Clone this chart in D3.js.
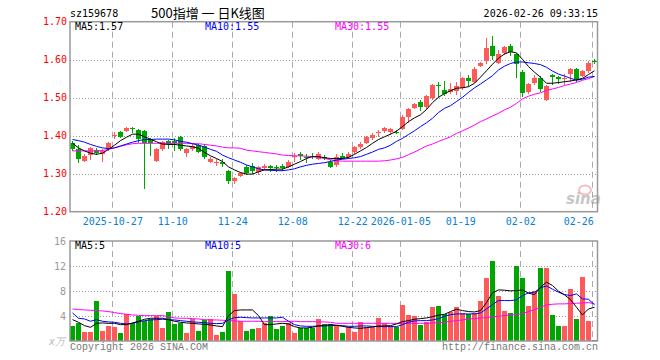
<!DOCTYPE html>
<html>
<head>
<meta charset="utf-8">
<script src="https://cdn.jsdelivr.net/npm/d3@7"></script>
<style>
  body { margin: 0; background: #fff; }
  text { font-family: "DejaVu Sans Mono", "Liberation Mono", monospace; font-size: 10px; }
</style>
</head>
<body>
<script>
// trading days shown on the chart
var dates = [
  "2025-10-16","2025-10-17","2025-10-20","2025-10-21","2025-10-22","2025-10-23","2025-10-24","2025-10-27","2025-10-28","2025-10-29",
  "2025-10-30","2025-10-31","2025-11-03","2025-11-04","2025-11-05","2025-11-06","2025-11-07","2025-11-10","2025-11-11","2025-11-12",
  "2025-11-13","2025-11-14","2025-11-17","2025-11-18","2025-11-19","2025-11-20","2025-11-21","2025-11-24","2025-11-25","2025-11-26",
  "2025-11-27","2025-11-28","2025-12-01","2025-12-02","2025-12-03","2025-12-04","2025-12-05","2025-12-08","2025-12-09","2025-12-10",
  "2025-12-11","2025-12-12","2025-12-15","2025-12-16","2025-12-17","2025-12-18","2025-12-19","2025-12-22","2025-12-23","2025-12-24",
  "2025-12-25","2025-12-26","2025-12-29","2025-12-30","2025-12-31","2026-01-05","2026-01-06","2026-01-07","2026-01-08","2026-01-09",
  "2026-01-12","2026-01-13","2026-01-14","2026-01-15","2026-01-16","2026-01-19","2026-01-20","2026-01-21","2026-01-22","2026-01-23",
  "2026-01-26","2026-01-27","2026-01-28","2026-01-29","2026-01-30","2026-02-02","2026-02-03","2026-02-04","2026-02-05","2026-02-06",
  "2026-02-09","2026-02-10","2026-02-11","2026-02-12","2026-02-13","2026-02-24","2026-02-25","2026-02-26"
];

var openP = [1.381,1.364,1.333,1.349,1.362,1.351,1.364,1.401,1.411,1.413,1.420,1.415,1.412,1.391,1.334,1.365,1.387,1.385,1.396,1.354,
  1.366,1.375,1.372,1.331,1.329,1.332,1.307,1.281,1.295,1.318,1.321,1.305,1.314,1.320,1.318,1.321,1.318,1.345,1.353,1.345,
  1.346,1.339,1.345,1.332,1.324,1.346,1.345,1.357,1.370,1.382,1.393,1.406,1.412,1.411,1.409,1.418,1.450,1.473,1.489,1.476,
  1.499,1.533,1.520,1.516,1.518,1.525,1.553,1.542,1.584,1.596,1.636,1.592,1.617,1.636,1.615,1.568,1.514,1.538,1.553,1.494,
  1.560,1.554,1.549,1.562,1.575,1.557,1.571,1.596];
var highP = [1.386,1.375,1.353,1.371,1.367,1.364,1.384,1.409,1.413,1.422,1.424,1.417,1.414,1.393,1.367,1.387,1.390,1.393,1.399,1.367,
  1.380,1.378,1.378,1.345,1.340,1.338,1.311,1.292,1.305,1.322,1.327,1.320,1.325,1.322,1.322,1.325,1.336,1.354,1.358,1.352,
  1.355,1.358,1.349,1.336,1.353,1.355,1.356,1.373,1.384,1.399,1.406,1.415,1.424,1.419,1.415,1.454,1.472,1.486,1.494,1.507,
  1.536,1.542,1.544,1.540,1.542,1.555,1.560,1.582,1.595,1.656,1.662,1.625,1.636,1.641,1.618,1.573,1.539,1.560,1.557,1.533,
  1.562,1.556,1.562,1.577,1.577,1.573,1.597,1.603];
var lowP = [1.360,1.329,1.332,1.336,1.349,1.332,1.361,1.391,1.393,1.411,1.406,1.380,1.261,1.347,1.332,1.360,1.364,1.360,1.360,1.345,
  1.360,1.355,1.338,1.329,1.321,1.318,1.273,1.272,1.292,1.297,1.300,1.297,1.311,1.305,1.305,1.308,1.314,1.332,1.336,1.329,
  1.338,1.336,1.336,1.314,1.317,1.338,1.340,1.352,1.366,1.378,1.389,1.397,1.408,1.402,1.404,1.415,1.434,1.470,1.466,1.468,
  1.495,1.500,1.505,1.510,1.507,1.520,1.529,1.539,1.581,1.590,1.599,1.590,1.612,1.610,1.553,1.503,1.510,1.533,1.516,1.492,
  1.533,1.536,1.533,1.542,1.542,1.555,1.564,1.588];
var closeP = [1.365,1.338,1.347,1.367,1.354,1.360,1.382,1.403,1.397,1.420,1.418,1.391,1.382,1.381,1.364,1.384,1.379,1.380,1.366,1.365,
  1.373,1.358,1.345,1.339,1.331,1.326,1.281,1.289,1.303,1.301,1.308,1.317,1.321,1.316,1.317,1.316,1.332,1.347,1.347,1.344,
  1.343,1.352,1.341,1.318,1.345,1.341,1.353,1.370,1.378,1.397,1.403,1.411,1.419,1.417,1.407,1.450,1.469,1.484,1.475,1.504,
  1.533,1.531,1.510,1.524,1.531,1.553,1.545,1.575,1.592,1.630,1.610,1.615,1.633,1.621,1.590,1.513,1.537,1.552,1.522,1.531,
  1.554,1.550,1.553,1.575,1.548,1.571,1.592,1.595];

var ma5 = [1.380,1.368,1.360,1.354,1.351,1.354,1.364,1.375,1.387,1.396,1.404,1.404,1.397,1.391,1.384,1.378,1.377,1.377,1.375,1.373,
  1.371,1.367,1.356,1.347,1.340,1.332,1.318,1.310,1.303,1.299,1.299,1.305,1.310,1.311,1.312,1.312,1.318,1.325,1.332,1.340,
  1.345,1.345,1.342,1.340,1.340,1.340,1.343,1.351,1.360,1.369,1.380,1.390,1.397,1.404,1.412,1.424,1.437,1.447,1.455,1.469,
  1.487,1.501,1.511,1.518,1.525,1.526,1.529,1.538,1.554,1.571,1.588,1.604,1.615,1.621,1.618,1.601,1.582,1.567,1.554,1.538,
  1.538,1.540,1.542,1.544,1.547,1.551,1.561,1.571];
var ma10 = [1.390,1.387,1.383,1.377,1.372,1.368,1.366,1.368,1.373,1.378,1.383,1.387,1.390,1.390,1.391,1.391,1.391,1.389,1.385,1.383,
  1.379,1.375,1.370,1.364,1.359,1.349,1.342,1.336,1.330,1.323,1.318,1.313,1.310,1.309,1.308,1.308,1.310,1.313,1.318,1.322,
  1.325,1.327,1.329,1.332,1.336,1.338,1.340,1.342,1.345,1.351,1.357,1.364,1.368,1.375,1.385,1.393,1.403,1.413,1.424,1.434,
  1.446,1.461,1.472,1.479,1.490,1.501,1.514,1.526,1.536,1.547,1.558,1.573,1.583,1.590,1.594,1.594,1.592,1.590,1.587,1.580,
  1.570,1.562,1.557,1.551,1.546,1.549,1.554,1.556];
var ma30 = [1.360,1.360,1.360,1.360,1.360,1.361,1.364,1.368,1.372,1.376,1.379,1.380,1.380,1.380,1.380,1.380,1.380,1.380,1.380,1.380,
  1.379,1.379,1.377,1.375,1.373,1.370,1.368,1.368,1.367,1.362,1.360,1.358,1.356,1.354,1.352,1.349,1.348,1.347,1.347,1.346,
  1.345,1.343,1.340,1.337,1.334,1.333,1.333,1.333,1.333,1.333,1.333,1.333,1.334,1.336,1.339,1.343,1.350,1.357,1.365,1.373,
  1.378,1.385,1.391,1.397,1.406,1.413,1.420,1.428,1.437,1.444,1.452,1.459,1.468,1.475,1.485,1.497,1.504,1.509,1.513,1.519,
  1.523,1.527,1.532,1.536,1.540,1.546,1.550,1.556];

// volume in units of 万
var volume = [2.46,2.83,1.50,1.50,6.47,1.66,2.46,2.30,1.34,4.39,2.89,3.96,3.16,3.53,3.96,2.03,4.71,2.67,2.94,1.34,
  3.58,1.55,3.42,3.58,1.02,1.50,11.28,7.59,3.26,1.66,1.98,2.14,2.89,3.96,1.98,2.35,2.89,1.34,2.14,2.14,
  2.14,3.58,2.73,2.73,2.46,1.23,2.30,1.39,3.10,2.30,2.30,3.64,2.83,2.46,2.19,5.83,4.22,4.06,2.57,3.10,
  5.51,5.67,4.33,4.71,5.51,4.49,4.33,4.44,6.47,10.16,12.73,7.27,4.87,4.55,11.98,10.05,5.67,8.07,11.76,11.76,
  4.22,2.46,2.46,8.40,3.48,10.32,3.26,0.21];
var vma5 = [3.42,3.00,2.46,2.19,2.83,2.89,2.83,2.83,2.62,2.62,2.89,3.16,3.48,3.64,3.64,3.64,3.42,3.16,3.00,2.89,
  2.83,2.73,2.67,2.57,2.41,2.30,4.06,4.87,4.97,4.97,4.97,4.06,2.62,2.62,2.73,2.83,2.73,2.30,2.09,2.09,
  2.19,2.41,2.51,2.62,2.51,2.35,2.19,2.09,2.03,2.14,2.25,2.41,2.41,2.46,2.73,3.10,3.26,3.48,3.58,3.69,
  3.90,4.12,4.28,4.71,5.08,4.87,4.71,4.65,4.87,6.15,7.70,8.18,8.13,8.02,8.07,8.18,7.65,7.43,8.61,9.41,
  8.88,7.97,7.38,6.63,5.40,4.17,5.13,5.40];
var vma10 = [4.49,3.64,3.53,3.16,3.42,3.16,3.05,3.00,2.83,2.73,2.83,3.05,3.26,3.37,3.42,3.48,3.42,3.37,3.26,3.16,
  3.05,3.00,2.94,2.83,2.78,2.83,3.37,3.74,3.80,3.74,3.69,3.69,3.69,3.69,3.69,3.80,3.16,2.62,2.41,2.35,
  2.35,2.41,2.41,2.46,2.51,2.46,2.35,2.35,2.41,2.41,2.35,2.30,2.30,2.30,2.30,2.62,3.00,3.21,3.26,3.26,
  3.37,3.58,3.96,4.22,4.33,4.33,4.33,4.33,4.49,5.13,5.83,6.47,6.47,6.47,6.58,7.27,7.70,7.81,8.50,8.82,
  8.29,7.81,7.43,7.27,7.54,6.74,6.68,5.80];
var vma30 = [5.13,5.03,4.97,4.92,4.87,4.81,4.71,4.55,4.39,4.28,4.17,4.12,4.06,4.06,4.06,4.06,3.90,3.69,3.64,3.64,
  3.58,3.53,3.42,3.37,3.37,3.32,3.26,3.21,3.16,3.16,3.16,3.16,3.10,3.10,3.10,3.10,3.16,3.16,3.10,3.10,
  3.10,3.05,3.05,2.99,2.83,2.83,2.83,2.83,2.83,2.83,2.83,2.83,2.83,2.83,2.83,2.83,2.83,2.83,2.83,2.83,
  2.89,2.94,2.99,3.16,3.26,3.37,3.53,3.58,3.69,3.74,3.90,3.96,4.06,4.17,4.22,4.39,4.71,5.03,5.40,5.78,
  5.88,5.94,5.94,5.99,6.04,6.10,6.15,5.94];

var priceTicks = [1.20, 1.30, 1.40, 1.50, 1.60, 1.70];
var volTicks = [4, 8, 12, 16];
var dateTicks = ["2025-10-27","2025-11-10","2025-11-24","2025-12-08","2025-12-22","2026-01-05","2026-01-19","2026-02-02","2026-02-26"];
var dateTickLabels = ["2025-10-27","11-10","11-24","12-08","12-22","2026-01-05","01-19","02-02","02-26"];

var upColor = "#ff5a5a", downColor = "#00a600";

var svg = d3.select("body").append("svg")
    .attr("width", 660)
    .attr("height", 360);

var left = 70, right = 597.5;
var pTop = 21.7, pBottom = 211.7;
var vTop = 241, vBottom = 341;

var x = d3.scaleBand().domain(dates).range([69.3, 597.3]).padding(0);
var yP = d3.scaleLinear().domain([1.20, 1.70]).range([pBottom, pTop]);
var yV = d3.scaleLinear().domain([0, 16]).range([vBottom, vTop]);

function px(d) { return Math.round(x(d)); }

// header
svg.append("text").attr("x", 70).attr("y", 17).text("sz159678");
svg.append("text").attr("x", 151).attr("y", 17.5)
    .style("font-family", "'Noto Sans CJK SC', sans-serif").style("font-size", "13px")
    .text("500指增 一 日K线图");
svg.append("text").attr("x", 598).attr("y", 17).attr("text-anchor", "end").text("2026-02-26 09:33:15");

// grid lines
var grid = svg.append("g");
grid.selectAll(".hp").data(priceTicks.slice(1, -1)).enter().append("line")
    .attr("x1", left).attr("x2", right)
    .attr("y1", function(d) { return Math.round(yP(d)) + 0.5; })
    .attr("y2", function(d) { return Math.round(yP(d)) + 0.5; })
    .attr("stroke", "#999").attr("stroke-dasharray", "1,2");
grid.selectAll(".hv").data([4, 8, 12]).enter().append("line")
    .attr("x1", left).attr("x2", right)
    .attr("y1", function(d) { return Math.round(yV(d)) + 0.5; })
    .attr("y2", function(d) { return Math.round(yV(d)) + 0.5; })
    .attr("stroke", "#999").attr("stroke-dasharray", "1,2");
dateTicks.forEach(function(d) {
    var gx = px(d) + 1.5;
    grid.append("line").attr("x1", gx).attr("x2", gx).attr("y1", pTop).attr("y2", pBottom)
        .attr("stroke", "#aaa").attr("stroke-dasharray", "6,4");
    grid.append("line").attr("x1", gx).attr("x2", gx).attr("y1", vTop).attr("y2", vBottom)
        .attr("stroke", "#aaa").attr("stroke-dasharray", "6,4");
});

// watermark
var wm = svg.append("g").attr("opacity", 0.55);
wm.append("ellipse").attr("cx", 585).attr("cy", 190).attr("rx", 6).attr("ry", 4.5)
    .attr("fill", "none").attr("stroke", "#f08a8a").attr("stroke-width", 2);
wm.append("text").attr("x", 566).attr("y", 204)
    .style("font-family", "'DejaVu Sans', sans-serif").style("font-size", "15px")
    .style("font-style", "italic").style("font-weight", "bold")
    .attr("fill", "#999").text("sina");

// candles
var candles = svg.append("g").attr("shape-rendering", "crispEdges");
dates.forEach(function(d, i) {
    var up = closeP[i] >= openP[i];
    var col = up ? upColor : downColor;
    var cx = px(d) + 3.5;
    candles.append("line")
        .attr("x1", cx).attr("x2", cx)
        .attr("y1", yP(highP[i])).attr("y2", yP(lowP[i]))
        .attr("stroke", col);
    var y0 = yP(Math.max(openP[i], closeP[i])), y1 = yP(Math.min(openP[i], closeP[i]));
    candles.append("rect")
        .attr("x", px(d) + 1).attr("width", 5)
        .attr("y", y0).attr("height", Math.max(1, y1 - y0))
        .attr("fill", col);
});

// volume bars
svg.append("g").attr("shape-rendering", "crispEdges")
    .selectAll("rect").data(dates).enter().append("rect")
    .attr("x", function(d) { return px(d) + 1; })
    .attr("width", 5)
    .attr("y", function(d, i) { return yV(volume[i]); })
    .attr("height", function(d, i) { return yV(0) - yV(volume[i]); })
    .attr("fill", function(d, i) { return closeP[i] >= openP[i] ? upColor : downColor; });

// moving average lines
function drawLine(values, yScale, color) {
    var line = d3.line()
        .x(function(v, i) { return x(dates[i]) + 3.2; })
        .y(function(v) { return yScale(v); });
    svg.append("path").datum(values)
        .attr("d", line)
        .attr("fill", "none")
        .attr("stroke", color)
        .attr("stroke-width", 1);
}
drawLine(ma30, yP, "#ff00ff");
drawLine(ma10, yP, "#0000ff");
drawLine(ma5, yP, "#000");
drawLine(vma30, yV, "#ff00ff");
drawLine(vma10, yV, "#0000ff");
drawLine(vma5, yV, "#000");

// frames
svg.append("rect").attr("x", left).attr("y", pTop).attr("width", right - left).attr("height", pBottom - pTop)
    .attr("fill", "none").attr("stroke", "#999").attr("stroke-width", 1.5);
svg.append("rect").attr("x", left).attr("y", vTop).attr("width", right - left).attr("height", vBottom - vTop)
    .attr("fill", "none").attr("stroke", "#999").attr("stroke-width", 1.5);

// axes
var yAxis = svg.append("g").attr("transform", "translate(" + left + ",0)")
    .call(d3.axisLeft(yP).tickValues(priceTicks).tickFormat(d3.format(".2f")).tickSize(0).tickPadding(3));
yAxis.select(".domain").remove();
yAxis.selectAll("text").attr("fill", "#f00").style("font-size", "10px").style("font-family", "'DejaVu Sans Mono', monospace");

var vAxis = svg.append("g").attr("transform", "translate(" + (left - 1) + ",0)")
    .call(d3.axisLeft(yV).tickValues(volTicks).tickFormat(d3.format("d")).tickSize(0).tickPadding(3));
vAxis.select(".domain").remove();
vAxis.selectAll("text").attr("fill", "#999").style("font-size", "10px").style("font-family", "'DejaVu Sans Mono', monospace");

var xAxis = svg.append("g").attr("transform", "translate(-1.5," + (pBottom + 3) + ")")
    .call(d3.axisBottom(x).tickValues(dateTicks)
        .tickFormat(function(d) { return dateTickLabels[dateTicks.indexOf(d)]; })
        .tickSize(0).tickPadding(3));
xAxis.select(".domain").remove();
xAxis.selectAll("text").attr("fill", "#0a7fd4").style("font-size", "10px").style("font-family", "'DejaVu Sans Mono', monospace");
// the last label is kept inside the frame
xAxis.selectAll(".tick").filter(function(d) { return d === dateTicks[dateTicks.length - 1]; })
    .select("text").attr("text-anchor", "end").attr("x", 1);

// legends
svg.append("text").attr("x", 75).attr("y", 30).attr("fill", "#000").text("MA5:1.57");
svg.append("text").attr("x", 205).attr("y", 30).attr("fill", "#0000ff").text("MA10:1.55");
svg.append("text").attr("x", 335).attr("y", 30).attr("fill", "#ff00ff").text("MA30:1.55");
svg.append("text").attr("x", 75).attr("y", 249).attr("fill", "#000").text("MA5:5");
svg.append("text").attr("x", 205).attr("y", 249).attr("fill", "#0000ff").text("MA10:5");
svg.append("text").attr("x", 335).attr("y", 249).attr("fill", "#ff00ff").text("MA30:6");

// footer
svg.append("text").attr("x", 65).attr("y", 345).attr("text-anchor", "end")
    .attr("fill", "#bbb").style("font-style", "italic").text("x万");
svg.append("text").attr("x", 70).attr("y", 350).attr("fill", "#777")
    .style("font-family", "'Liberation Mono', monospace").text("Copyright 2026 SINA.COM");
svg.append("text").attr("x", 598).attr("y", 350).attr("text-anchor", "end").attr("fill", "#777")
    .style("font-family", "'Liberation Mono', monospace").text("http://finance.sina.com.cn");
</script>
</body>
</html>
